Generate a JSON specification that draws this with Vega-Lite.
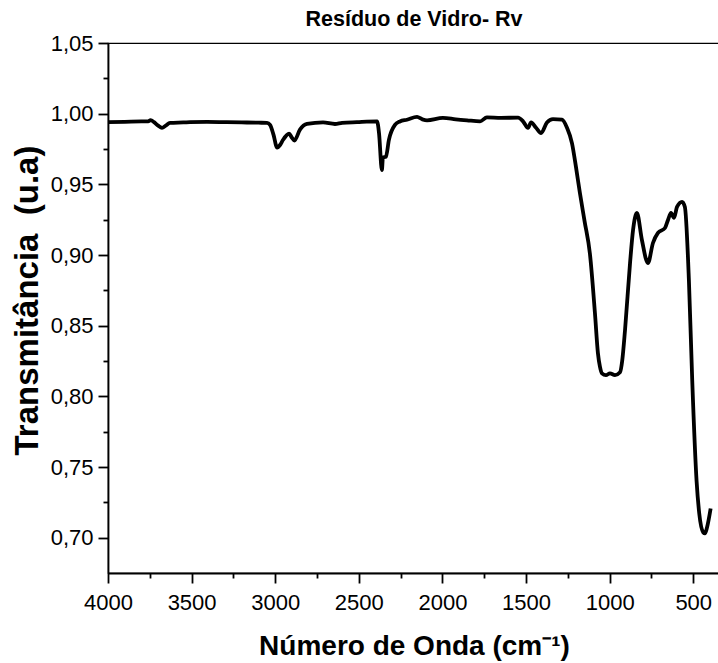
{
  "$schema": "https://vega.github.io/schema/vega-lite/v6.json",
  "autosize": "none",
  "width": 612,
  "height": 530,
  "padding": {"left": 108, "top": 43, "right": 0, "bottom": 90},
  "background": "white",
  "title": {"text": "Resíduo de Vidro- Rv", "font": "Liberation Sans", "fontSize": 21.5, "fontWeight": "bold", "color": "black", "anchor": "middle", "frame": "group", "offset": 2},
  "data": {"values": [
    {"w": 4000, "t": 0.994}, {"w": 3900, "t": 0.9942}, {"w": 3800, "t": 0.9945}, {"w": 3760, "t": 0.9945},
    {"w": 3745, "t": 0.9955}, {"w": 3725, "t": 0.994}, {"w": 3700, "t": 0.9915}, {"w": 3677, "t": 0.990},
    {"w": 3655, "t": 0.9915}, {"w": 3629, "t": 0.9935}, {"w": 3550, "t": 0.9938}, {"w": 3510, "t": 0.994},
    {"w": 3408, "t": 0.9942}, {"w": 3300, "t": 0.994}, {"w": 3200, "t": 0.9938}, {"w": 3100, "t": 0.9936},
    {"w": 3049, "t": 0.9935}, {"w": 3031, "t": 0.992}, {"w": 3010, "t": 0.985}, {"w": 2989, "t": 0.976},
    {"w": 2970, "t": 0.978}, {"w": 2953, "t": 0.9815}, {"w": 2917, "t": 0.9858}, {"w": 2900, "t": 0.983},
    {"w": 2885, "t": 0.981}, {"w": 2852, "t": 0.9887}, {"w": 2810, "t": 0.9927}, {"w": 2714, "t": 0.9938},
    {"w": 2643, "t": 0.9927}, {"w": 2600, "t": 0.9935}, {"w": 2511, "t": 0.994}, {"w": 2391, "t": 0.9945},
    {"w": 2379, "t": 0.986}, {"w": 2362, "t": 0.960}, {"w": 2356, "t": 0.969}, {"w": 2338, "t": 0.9695},
    {"w": 2320, "t": 0.9815}, {"w": 2284, "t": 0.992}, {"w": 2254, "t": 0.9945}, {"w": 2212, "t": 0.9957},
    {"w": 2152, "t": 0.9977}, {"w": 2120, "t": 0.996}, {"w": 2092, "t": 0.9953}, {"w": 1997, "t": 0.997},
    {"w": 1920, "t": 0.996}, {"w": 1853, "t": 0.9953}, {"w": 1775, "t": 0.9946}, {"w": 1734, "t": 0.9974},
    {"w": 1650, "t": 0.997}, {"w": 1548, "t": 0.9972}, {"w": 1518, "t": 0.9946}, {"w": 1488, "t": 0.990},
    {"w": 1470, "t": 0.9938}, {"w": 1440, "t": 0.990}, {"w": 1410, "t": 0.9863}, {"w": 1375, "t": 0.9938},
    {"w": 1339, "t": 0.9962}, {"w": 1285, "t": 0.9957}, {"w": 1255, "t": 0.990}, {"w": 1225, "t": 0.979},
    {"w": 1201, "t": 0.962}, {"w": 1178, "t": 0.944}, {"w": 1150, "t": 0.924}, {"w": 1118, "t": 0.901},
    {"w": 1088, "t": 0.859}, {"w": 1070, "t": 0.8305}, {"w": 1058, "t": 0.821}, {"w": 1046, "t": 0.8163},
    {"w": 1022, "t": 0.815}, {"w": 998, "t": 0.8163}, {"w": 968, "t": 0.815}, {"w": 938, "t": 0.817},
    {"w": 925, "t": 0.825}, {"w": 908, "t": 0.8468}, {"w": 878, "t": 0.8943}, {"w": 860, "t": 0.9177},
    {"w": 837, "t": 0.9298}, {"w": 807, "t": 0.9106}, {"w": 771, "t": 0.8943}, {"w": 741, "t": 0.9085},
    {"w": 711, "t": 0.9156}, {"w": 669, "t": 0.9191}, {"w": 651, "t": 0.9248}, {"w": 633, "t": 0.9298},
    {"w": 615, "t": 0.9262}, {"w": 597, "t": 0.934}, {"w": 567, "t": 0.9376}, {"w": 550, "t": 0.934},
    {"w": 526, "t": 0.8823}, {"w": 506, "t": 0.811}, {"w": 480, "t": 0.740}, {"w": 464, "t": 0.717},
    {"w": 440, "t": 0.7037}, {"w": 430, "t": 0.703}, {"w": 418, "t": 0.707}, {"w": 396, "t": 0.7206}
  ]},
  "mark": {"type": "line", "color": "black", "strokeWidth": 3.8, "interpolate": "monotone", "strokeJoin": "round"},
  "encoding": {
    "x": {
      "field": "w", "type": "quantitative",
      "scale": {"domain": [4000, 340], "nice": false, "zero": false},
      "axis": {
        "title": "Número de Onda (cm⁻¹)",
        "values": [4000, 3750, 3500, 3250, 3000, 2750, 2500, 2250, 2000, 1750, 1500, 1250, 1000, 750, 500],
        "labelExpr": "datum.value % 500 === 0 ? format(datum.value, 'd') : ''",
        "tickSize": {"condition": {"test": "datum.value % 500 === 0", "value": 10}, "value": 5},
        "labelPadding": 9,
        "titlePadding": 19,
        "titleFontSize": 28
      }
    },
    "y": {
      "field": "t", "type": "quantitative",
      "scale": {"domain": [0.675, 1.05], "nice": false, "zero": false},
      "axis": {
        "title": "Transmitância  \u00a0(u.a)",
        "values": [0.7, 0.725, 0.75, 0.775, 0.8, 0.825, 0.85, 0.875, 0.9, 0.925, 0.95, 0.975, 1.0, 1.025, 1.05],
        "labelExpr": "abs(datum.value * 20 - round(datum.value * 20)) < 0.001 ? replace(format(datum.value, '.2f'), '.', ',') : ''",
        "tickSize": {"condition": {"test": "abs(datum.value * 20 - round(datum.value * 20)) < 0.001", "value": 10}, "value": 5},
        "labelPadding": 5,
        "titlePadding": 6,
        "titleFontSize": 33,
        "titleY": 257
      }
    }
  },
  "config": {
    "view": {"stroke": "black", "strokeWidth": 1.2},
    "axis": {
      "grid": false,
      "domainColor": "black", "domainWidth": 1.8,
      "tickColor": "black", "tickWidth": 1.8,
      "labelFont": "Liberation Sans", "labelFontSize": 22, "labelColor": "black",
      "titleFont": "Liberation Sans", "titleFontWeight": "bold", "titleColor": "black",
      "labelOverlap": false, "labelFlush": false
    }
  }
}
